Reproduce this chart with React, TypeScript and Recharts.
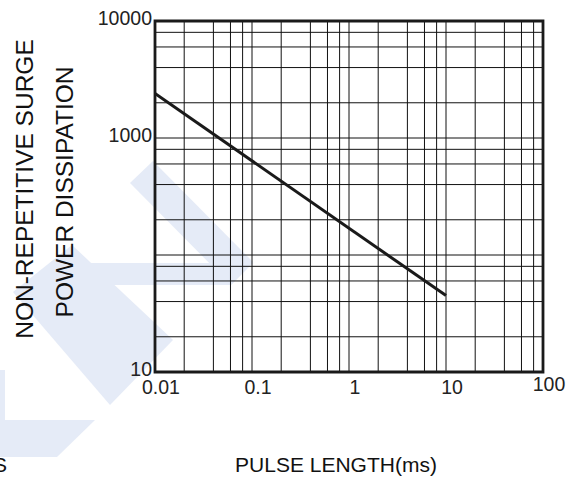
import React from "react";
import {
  LineChart,
  Line,
  XAxis,
  YAxis,
  CartesianGrid,
  ReferenceArea,
  Label,
} from "recharts";

// grid values (log-log paper: 1, 2, 4, 6, 8 per decade)
const pulseGrid = [
  0.01, 0.02, 0.04, 0.06, 0.08, 0.1, 0.2, 0.4, 0.6, 0.8, 1, 2, 4, 6, 8, 10, 20,
  40, 60, 80, 100,
];
const powerGrid = [
  10, 20, 40, 60, 80, 100, 200, 400, 600, 800, 1000, 2000, 4000, 6000, 8000,
  10000,
];
const pulseLabels = [0.01, 0.1, 1, 10, 100];
const powerLabels = [10, 1000, 10000];

// curve
const pulseLength = [0.01, 10];
const surgePower = [2400, 45];

const data = pulseLength.map((x, i) => ({ x, p: surgePower[i] }));

const FONT = '"Liberation Sans", Arial, sans-serif';

const XTick = (props: any) => {
  const { x, y, payload } = props;
  if (!pulseLabels.includes(payload.value)) return null;
  const last = payload.value === 100;
  return (
    <text
      x={x + 6}
      y={y + (last ? 11 : 14)}
      textAnchor="middle"
      fontFamily={FONT}
      fontSize={19.5}
      fill="#222">
      {String(payload.value)}
    </text>
  );
};

const YTick = (props: any) => {
  const { x, y, payload } = props;
  if (!powerLabels.includes(payload.value)) return null;
  return (
    <text
      x={x + 5}
      y={y + 4}
      textAnchor="end"
      fontFamily={FONT}
      fontSize={19.5}
      fill="#222">
      {String(payload.value)}
    </text>
  );
};

const YTitle = () => (
  <g fontFamily={FONT} fontSize={24.5} fill="#111">
    <text x={33} y={189} textAnchor="middle" transform="rotate(-90 33 189)">
      NON-REPETITIVE SURGE
    </text>
    <text x={73} y={192} textAnchor="middle" transform="rotate(-90 73 192)">
      POWER DISSIPATION
    </text>
  </g>
);

const XTitle = () => (
  <g fontFamily={FONT} fontSize={21} fill="#111">
    <text x={336} y={472} textAnchor="middle">
      PULSE LENGTH(ms)
    </text>
    <text x={-7} y={472} textAnchor="start">
      S
    </text>
  </g>
);

const WATERMARK = "#e5ebf7";

export default function App() {
  return (
    <div
      style={{
        position: "absolute",
        left: 0,
        top: 0,
        width: 572,
        height: 480,
        background: "#fff",
      }}>
      <svg
        width={572}
        height={480}
        style={{ position: "absolute", left: 0, top: 0 }}>
        <polygon points="130,183 153,161 253,262 231,285" fill={WATERMARK} />
        <polygon points="60,263 253,263 231,285 50,285" fill={WATERMARK} />
        <polygon points="13,292 72,245 173,340 110,405" fill={WATERMARK} />
        <polygon points="0,370 5,370 5,420 0,420" fill={WATERMARK} />
        <polygon points="0,420 95,420 57,457 0,457" fill={WATERMARK} />
      </svg>
      <div style={{ position: "absolute", left: 0, top: 0 }}>
        <LineChart
          width={572}
          height={480}
          data={data}
          margin={{ top: 21, right: 29, left: 0, bottom: 0 }}>
          <CartesianGrid stroke="#111" strokeWidth={1} />
          <XAxis
            dataKey="x"
            type="number"
            scale="log"
            domain={[0.01, 100]}
            ticks={pulseGrid}
            interval={0}
            allowDataOverflow
            axisLine={false}
            tickLine={false}
            height={108}
            tick={<XTick />}>
            <Label content={<XTitle />} />
          </XAxis>
          <YAxis
            type="number"
            scale="log"
            domain={[10, 10000]}
            ticks={powerGrid}
            interval={0}
            allowDataOverflow
            axisLine={false}
            tickLine={false}
            width={155}
            tick={<YTick />}>
            <Label content={<YTitle />} />
          </YAxis>
          <ReferenceArea
            x1={0.01}
            x2={100}
            y1={10}
            y2={10000}
            fill="none"
            stroke="#1a1a1a"
            strokeWidth={2.8}
          />
          <Line
            dataKey="p"
            stroke="#1a1a1a"
            strokeWidth={3}
            dot={false}
            isAnimationActive={false}
          />
        </LineChart>
      </div>
    </div>
  );
}
